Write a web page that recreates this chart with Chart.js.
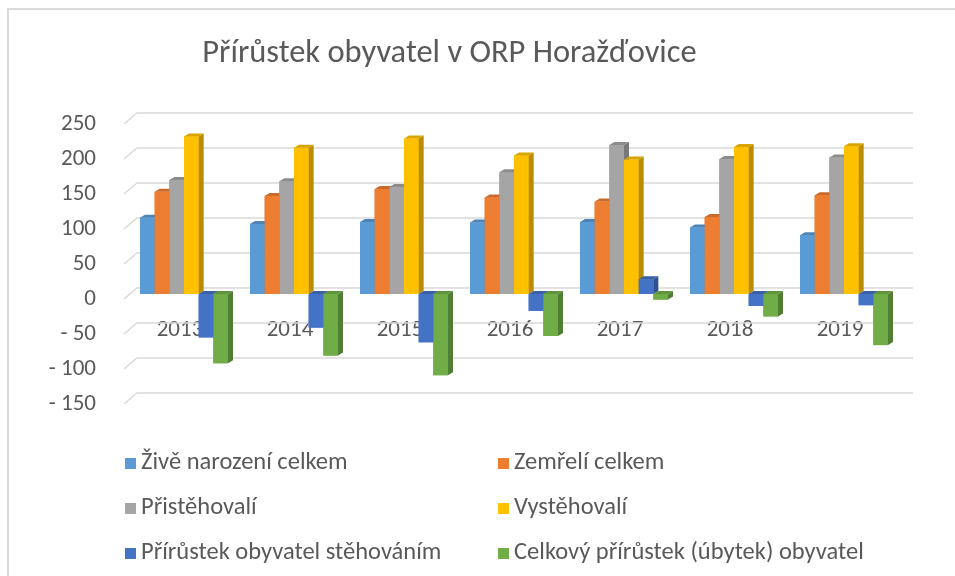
<!DOCTYPE html>
<html lang="cs">
<head>
<meta charset="utf-8">
<script src="https://cdn.jsdelivr.net/npm/chart.js@4.4.1/dist/chart.umd.min.js"></script>
<style>
  html, body { margin: 0; padding: 0; background: #fff; }
  body { width: 955px; height: 576px; overflow: hidden; position: relative; font-family: Carlito, Lato, sans-serif; }
  .frame { position: absolute; left: 7px; top: 8px; width: 1000px; height: 700px; border: 2px solid #d9d9d9; box-sizing: border-box; }
  #chart { position: absolute; left: 0; top: 0; }
  .legend { position: absolute; left: 125px; top: 438px; display: grid; grid-template-columns: 373px auto; grid-auto-rows: 45px; color: #595959; font-size: 24.5px; }
  .legend div { display: flex; align-items: center; white-space: nowrap; }
  .legend i { display: inline-block; width: 11px; height: 11px; margin-right: 5px; margin-top: 5px; }
</style>
</head>
<body>
<div class="frame"></div>
<canvas id="chart" width="955" height="576"></canvas>
<div class="legend" id="legend"></div>
<script>
const years = ['2013', '2014', '2015', '2016', '2017', '2018', '2019']
const ziveNarozeni = [109, 100, 103, 102, 103, 95, 84]
const zemreli = [146, 140, 150, 138, 132, 110, 141]
const pristehovali = [163, 161, 153, 174, 213, 193, 195]
const vystehovali = [225, 209, 222, 198, 192, 210, 211]
const prirustekStehovanim = [-62, -48, -69, -24, 21, -17, -16]
const celkovyPrirustek = [-99, -88, -116, -60, -8, -32, -73]

const seriesNames = [
  'Živě narození celkem',
  'Zemřelí celkem',
  'Přistěhovalí',
  'Vystěhovalí',
  'Přírůstek obyvatel stěhováním',
  'Celkový přírůstek (úbytek) obyvatel'
]
const frontColors = ['#5B9BD5', '#ED7D31', '#A5A5A5', '#FFC000', '#4472C4', '#70AD47']
const sideColors = ['#41719C', '#AE5A21', '#787878', '#BC8C00', '#2F528F', '#507E32']
const topColors = ['#4D84B5', '#C96A2A', '#8C8C8C', '#D9A300', '#3A61A7', '#5F933C']

const FONT = 'Carlito, Lato, sans-serif'
const TEXT = '#595959'
const DX = 5, DY = 3

// back wall grid + fake depth on the bars
const bar3d = {
  id: 'bar3d',
  beforeDatasetsDraw(chart) {
    const { ctx, chartArea, scales: { y } } = chart
    ctx.save()
    ctx.strokeStyle = '#d9d9d9'
    ctx.lineWidth = 1.5
    y.ticks.forEach(t => {
      const py = y.getPixelForValue(t.value)
      ctx.beginPath()
      ctx.moveTo(chartArea.left - 5, py + 5)
      ctx.lineTo(chartArea.left + 8, py - 6)
      ctx.lineTo(chartArea.right + 14, py - 6)
      ctx.stroke()
    })
    ctx.restore()
  },
  afterDatasetsDraw(chart) {
    const { ctx } = chart
    ctx.save()
    chart.data.labels.forEach((_, i) => {
      chart.data.datasets.forEach((ds, di) => {
        const bar = chart.getDatasetMeta(di).data[i]
        const { x, y, base, width } = bar.getProps(['x', 'y', 'base', 'width'], true)
        const l = x - width / 2
        const r = x + width / 2
        const top = Math.min(y, base)
        const bot = Math.max(y, base)

        ctx.fillStyle = frontColors[di]
        ctx.fillRect(l, top, width, bot - top)

        ctx.fillStyle = sideColors[di]
        ctx.beginPath()
        ctx.moveTo(r, top)
        ctx.lineTo(r + DX, top - DY)
        ctx.lineTo(r + DX, bot - DY)
        ctx.lineTo(r, bot)
        ctx.closePath()
        ctx.fill()

        ctx.fillStyle = topColors[di]
        ctx.beginPath()
        ctx.moveTo(l, top)
        ctx.lineTo(l + DX, top - DY)
        ctx.lineTo(r + DX, top - DY)
        ctx.lineTo(r, top)
        ctx.closePath()
        ctx.fill()
      })
    })
    ctx.restore()
  }
}

const seriesData = [ziveNarozeni, zemreli, pristehovali, vystehovali, prirustekStehovanim, celkovyPrirustek]

const chart = new Chart(document.getElementById('chart'), {
  type: 'bar',
  data: {
    labels: years,
    datasets: seriesData.map((values, i) => ({
      label: seriesNames[i],
      data: values,
      backgroundColor: frontColors[i],
      borderWidth: 0,
      categoryPercentage: 0.8,
      barPercentage: 1
    }))
  },
  options: {
    responsive: false,
    animation: false,
    layout: { padding: { left: 0, right: 56, top: 0, bottom: 177 } },
    plugins: {
      legend: { display: false },
      tooltip: { enabled: false },
      title: {
        display: true,
        text: 'Přírůstek obyvatel v ORP Horažďovice',
        color: TEXT,
        font: { family: FONT, size: 32.5, weight: 'normal' },
        padding: { top: 34, bottom: 46 }
      }
    },
    scales: {
      x: {
        position: { y: 0 },
        grid: { display: false, drawTicks: false },
        border: { display: false },
        ticks: {
          color: TEXT,
          font: { family: FONT, size: 23 },
          padding: 22,
          labelOffset: -4
        }
      },
      y: {
        min: -150,
        max: 250,
        grid: { display: false, drawTicks: false },
        border: { display: false },
        afterFit(scale) { scale.width = 129 },
        ticks: {
          stepSize: 50,
          padding: 33,
          labelOffset: 5,
          color: TEXT,
          font: { family: FONT, size: 23 },
          callback: v => v < 0 ? '- ' + Math.abs(v) : String(v)
        }
      }
    }
  },
  plugins: [bar3d]
})

// two-column legend like the original
const legendEl = document.getElementById('legend')
chart.data.datasets.forEach((ds, i) => {
  const item = document.createElement('div')
  const box = document.createElement('i')
  box.style.background = ds.backgroundColor
  item.appendChild(box)
  item.appendChild(document.createTextNode(ds.label))
  legendEl.appendChild(item)
})
</script>
</body>
</html>
